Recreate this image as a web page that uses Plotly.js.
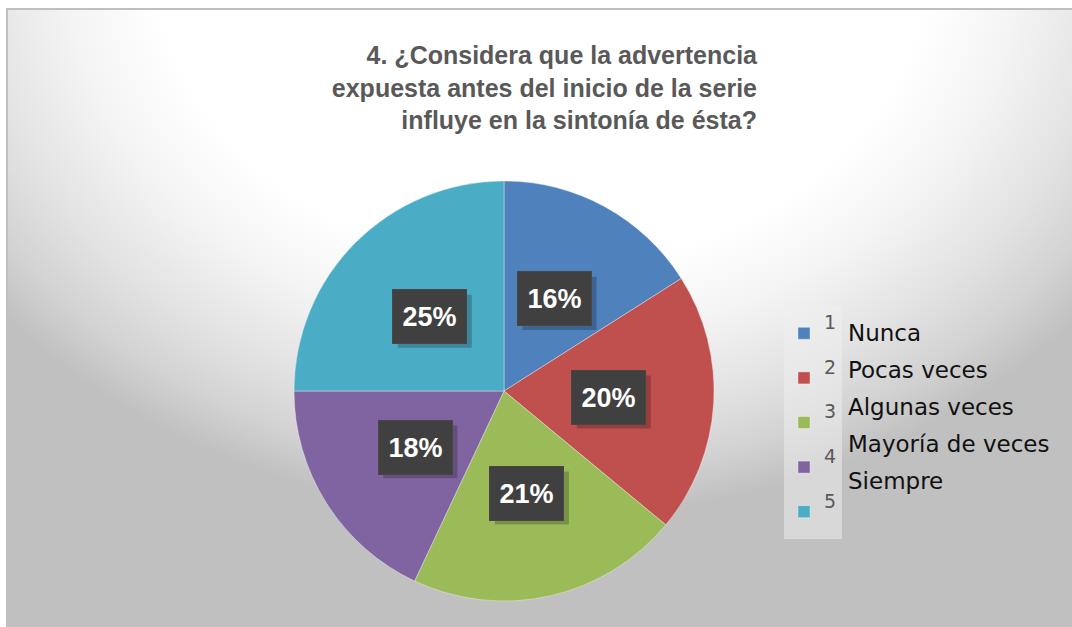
<!DOCTYPE html>
<html>
<head>
<meta charset="utf-8">
<script src="https://cdn.plot.ly/plotly-3.0.1.min.js"></script>
<style>
  html, body { margin: 0; padding: 0; background: #ffffff; }
  #wrap { position: relative; width: 1072px; height: 627px; overflow: hidden; }
  #frame {
    position: absolute; left: 6px; top: 8px; right: 0; bottom: 0;
    border-left: 2px solid #bfbfbf; border-top: 2px solid #bfbfbf;
    background: radial-gradient(ellipse 700px 560px at 534px -52px,
      #ffffff 0%, #ffffff 55%, #f4f4f4 68%, #e2e2e2 82%, #d2d2d2 92%, #c0c0c0 100%);
  }
  #chart { position: absolute; left: 0; top: 0; width: 1072px; height: 627px; }
</style>
</head>
<body>
<div id="wrap">
  <div id="frame"></div>
  <div id="chart"></div>
</div>
<script>
// ---- data ----
const codes = ['1', '2', '3', '4', '5'];
const categories = ['Nunca', 'Pocas veces', 'Algunas veces', 'Mayoría de veces', 'Siempre'];
const values = [16, 20, 21, 18, 25];
const colors = ['#4F81BD', '#C0504D', '#9BBB59', '#8064A2', '#4BACC6'];
const titleLines = ['4. ¿Considera que la advertencia', 'expuesta antes del inicio de la serie', 'influye en la sintonía de ésta?'];

// ---- layout geometry ----
const W = 1072, H = 627;
const cx = 504, cy = 391, R = 210;
const domX = [(cx - R) / W, (cx + R) / W];
const domY = [(H - cy - R) / H, (H - cy + R) / H];

const total = values.reduce((a, b) => a + b, 0);

const annotations = [];
const shapes = [];
// data labels (dark boxes) placed at half radius along each slice's mid-angle
let cum = 0;
values.forEach((v, i) => {
  const mid = 2 * Math.PI * (cum + v / 2) / total;
  cum += v;
  const px = cx + 0.5 * R * Math.sin(mid);
  const py = cy - 0.5 * R * Math.cos(mid);
  const ax = px / W, ay = 1 - py / H;
  const pct = Math.round(100 * v / total) + '%';
  // drop shadow
  shapes.push({
    type: 'rect', xref: 'paper', yref: 'paper', xsizemode: 'pixel', ysizemode: 'pixel',
    xanchor: ax, yanchor: ay, x0: -32, x1: 42, y0: -31, y1: 22,
    fillcolor: 'rgba(0,0,0,0.22)', line: { width: 0 }, layer: 'above'
  });
  annotations.push({
    xref: 'paper', yref: 'paper', x: ax, y: ay, xanchor: 'center', yanchor: 'middle',
    showarrow: false, width: 71, height: 51, borderpad: 1,
    text: '<b>' + pct + '</b>', valign: 'middle', align: 'center',
    bgcolor: '#404040', bordercolor: '#474747', borderwidth: 1,
    font: { family: 'Liberation Sans, Arial, sans-serif', size: 27, color: '#ffffff' }
  });
  // lighter top edge of the box
  shapes.push({
    type: 'rect', xref: 'paper', yref: 'paper', xsizemode: 'pixel', ysizemode: 'pixel',
    xanchor: ax, yanchor: ay, x0: -37, x1: 37, y0: 25, y1: 27,
    fillcolor: '#6a6a6a', line: { width: 0 }, layer: 'above'
  });
});

// category names next to the legend
categories.forEach((c, i) => {
  annotations.push({
    xref: 'paper', yref: 'paper', x: 846 / W, y: 1 - (333 + i * 37) / H,
    xanchor: 'left', yanchor: 'middle', showarrow: false, text: c,
    font: { family: 'DejaVu Sans, sans-serif', size: 23, color: '#111111' }
  });
});

const trace = {
  type: 'pie',
  labels: codes.map(c => '<span style="font-size:19px">' + c + '</span><br> '),
  values: values,
  marker: { colors: colors, line: { color: 'rgba(255,255,255,0.35)', width: 1 } },
  sort: false,
  direction: 'clockwise',
  rotation: 0,
  textinfo: 'none',
  hoverinfo: 'percent',
  domain: { x: domX, y: domY }
};

const layout = {
  width: W, height: H,
  margin: { l: 0, r: 0, t: 0, b: 0 },
  paper_bgcolor: 'rgba(0,0,0,0)',
  plot_bgcolor: 'rgba(0,0,0,0)',
  title: {
    text: '<b>' + titleLines.join('<br>') + '</b>',
    xref: 'container', yref: 'container',
    x: 757 / W, xanchor: 'right',
    y: 1 - 64 / H, yanchor: 'top',
    font: { family: 'Liberation Sans, Arial, sans-serif', size: 25, color: '#595959' }
  },
  showlegend: true,
  legend: {
    x: 784 / W, xanchor: 'left',
    y: 1 - 306 / H, yanchor: 'top',
    bgcolor: 'rgba(240,240,240,0.5)',
    font: { family: 'DejaVu Sans, sans-serif', size: 16, color: '#595959' },
    valign: 'middle',
    traceorder: 'normal'
  },
  shapes: shapes,
  annotations: annotations
};

Plotly.newPlot('chart', [trace], layout, { displayModeBar: false, staticPlot: true });
</script>
</body>
</html>
